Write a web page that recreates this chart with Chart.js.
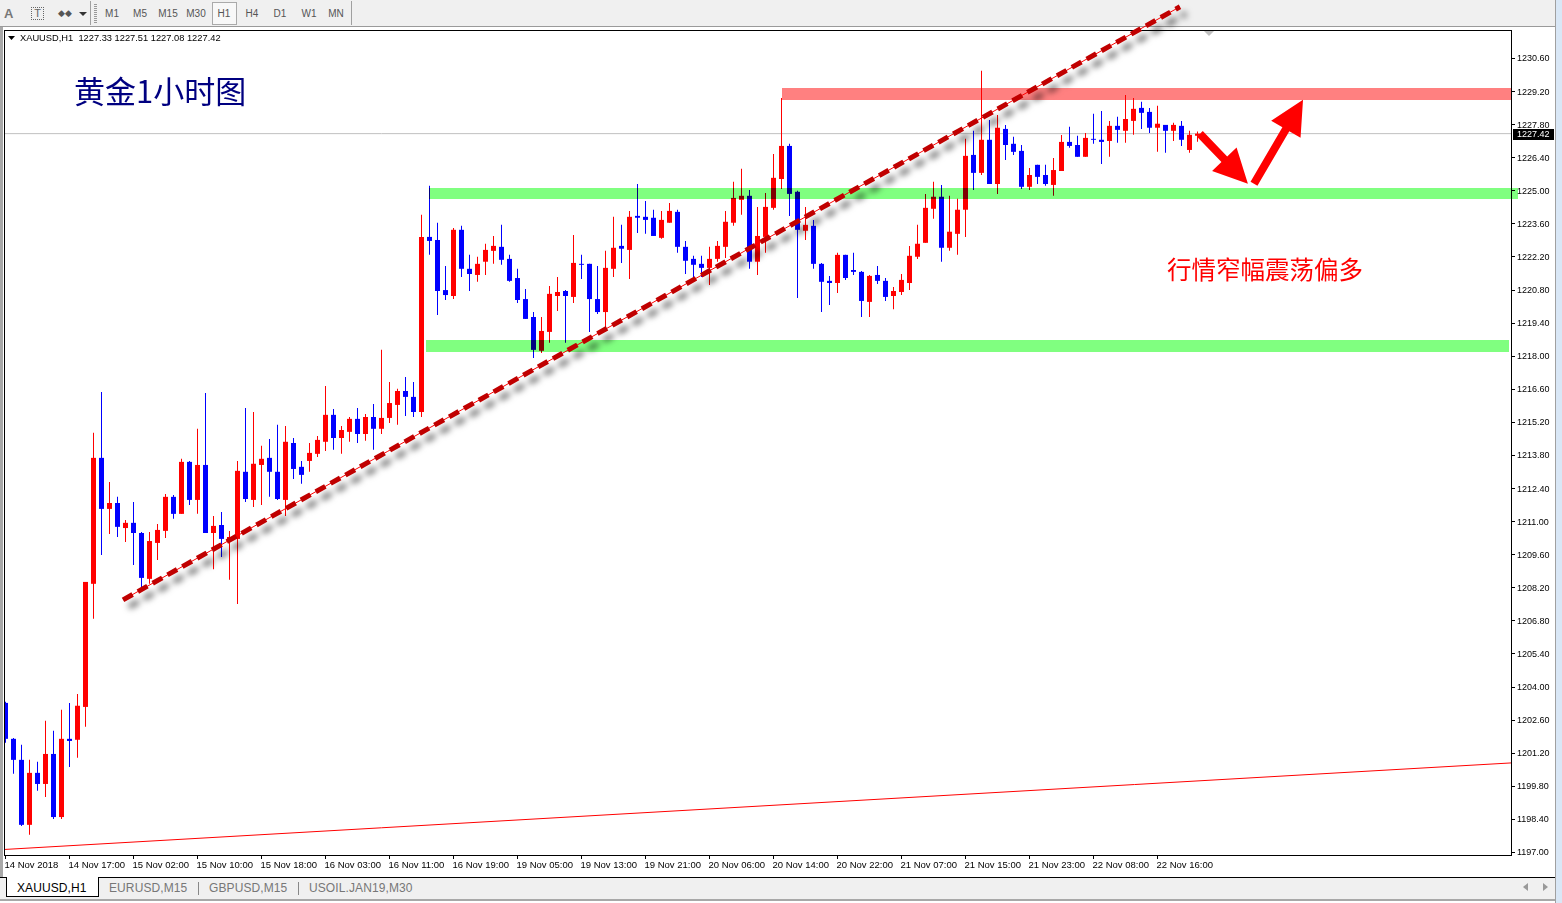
<!DOCTYPE html>
<html>
<head>
<meta charset="utf-8">
<title>XAUUSD,H1</title>
<script src="https://cdn.jsdelivr.net/npm/chart.js@4"></script>
<style>
  html, body { margin: 0; padding: 0; background: #fff; overflow: hidden; }
  #wrap { position: relative; width: 1562px; height: 903px; overflow: hidden; font-family: "Liberation Sans", sans-serif; }
  #chart { position: absolute; left: 0; top: 0; z-index: 1; }
  .box { position: absolute; }
  .tf { position: absolute; top: 8px; width: 28px; text-align: center; font-size: 10px; line-height: 12px; color: #555; }
  .tab { position: absolute; top: 881px; font-size: 12px; line-height: 14px; color: #777; letter-spacing: .1px; }
</style>
</head>
<body>
<div id="wrap">
  <canvas id="chart" width="1562" height="903"></canvas>

  <!-- terminal toolbar -->
  <div class="box" style="left:0;top:0;width:1556px;height:26px;background:#f0f0f0"></div>
  <div class="box" style="left:0;top:26px;width:1556px;height:1px;background:#9a9a9a"></div>
  <div class="box" style="left:90px;top:1px;width:1px;height:24px;background:#a0a0a0"></div>
  <div class="box" style="left:94px;top:4px;width:3px;height:19px;background:repeating-linear-gradient(#999 0 1px,#f0f0f0 1px 2px)"></div>
  <div class="box" style="left:351px;top:1px;width:1px;height:24px;background:#a0a0a0"></div>
  <div class="box" style="left:212px;top:2px;width:25px;height:23px;box-sizing:border-box;border:1px solid #aaa;background:#f8f8f8"></div>
  <div class="box" style="left:4px;top:6px;font-size:13px;font-weight:bold;color:#777">A</div>
  <div class="box" style="left:31px;top:7px;width:11px;height:11px;border:1px dotted #666;font-size:11px;line-height:11px;text-align:center;color:#666">T</div>
  <div class="box" style="left:58px;top:8px;font-size:9px;line-height:10px;color:#555">◆◆</div>
  <div class="box" style="left:79px;top:12px;border-left:4px solid transparent;border-right:4px solid transparent;border-top:4px solid #333"></div>
  <div class="tf" style="left:98px">M1</div>
  <div class="tf" style="left:126px">M5</div>
  <div class="tf" style="left:154px">M15</div>
  <div class="tf" style="left:182px">M30</div>
  <div class="tf" style="left:210px">H1</div>
  <div class="tf" style="left:238px">H4</div>
  <div class="tf" style="left:266px">D1</div>
  <div class="tf" style="left:295px">W1</div>
  <div class="tf" style="left:322px">MN</div>

  <!-- window edges -->
  <div class="box" style="left:0;top:27px;width:3px;height:850px;background:#a8a8a8"></div>
  <div class="box" style="left:1555px;top:0;width:1px;height:903px;background:#a0a0a0"></div>
  <div class="box" style="left:1556px;top:0;width:6px;height:903px;background:#d9e7f6"></div>

  <!-- symbol tabs -->
  <div class="box" style="left:0;top:877px;width:1555px;height:1px;background:#000"></div>
  <div class="box" style="left:0;top:878px;width:1555px;height:21px;background:#f0f0f0"></div>
  <div class="box" style="left:0;top:899px;width:1555px;height:2px;background:#a8a8a8"></div>
  <div class="box" style="left:6px;top:877px;width:93px;height:20px;box-sizing:border-box;border:1px solid #000;border-top:none;background:#fff"></div>
  <div class="tab" style="left:17px;color:#000">XAUUSD,H1</div>
  <div class="tab" style="left:109px">EURUSD,M15</div>
  <div class="box" style="left:198px;top:882px;width:1px;height:13px;background:#888"></div>
  <div class="tab" style="left:209px">GBPUSD,M15</div>
  <div class="box" style="left:298px;top:882px;width:1px;height:13px;background:#888"></div>
  <div class="tab" style="left:309px">USOIL.JAN19,M30</div>
  <div class="box" style="left:1523px;top:883px;border-top:4px solid transparent;border-bottom:4px solid transparent;border-right:5px solid #999"></div>
  <div class="box" style="left:1543px;top:883px;border-top:4px solid transparent;border-bottom:4px solid transparent;border-left:5px solid #999"></div>
</div>

<script>
// Candles
const opens = [
  1203.33,1201.81,1200.92,1198.17,1200.37,1199.90,1201.17,1198.50,1201.81,1201.77,
  1203.16,1208.37,1213.70,1211.54,1211.79,1210.73,1210.95,1210.52,1208.58,1210.10,
  1210.61,1212.05,1211.33,1213.53,1211.92,1213.40,1210.52,1210.86,1210.18,1210.27,
  1213.11,1211.92,1213.40,1213.70,1213.11,1211.92,1214.33,1213.32,1213.57,1213.87,
  1214.38,1215.52,1214.54,1214.80,1215.35,1214.71,1215.43,1214.93,1215.39,1215.94,
  1216.53,1216.28,1215.64,1223.05,1222.92,1220.80,1220.55,1223.35,1221.70,1221.44,
  1222.00,1222.46,1222.63,1222.12,1221.31,1220.42,1219.66,1218.23,1219.03,1220.55,
  1220.76,1220.51,1221.91,1221.91,1220.42,1219.87,1221.70,1222.67,1222.50,1223.94,
  1223.90,1223.86,1223.01,1223.65,1224.11,1222.63,1222.12,1221.91,1221.74,1222.12,
  1222.63,1223.65,1224.62,1224.79,1222.00,1223.05,1224.28,1225.50,1226.90,1224.96,
  1223.31,1223.52,1221.91,1221.19,1221.10,1222.29,1221.65,1221.57,1220.30,1221.44,
  1221.19,1220.55,1220.72,1221.10,1222.21,1222.80,1224.24,1224.75,1222.59,1223.18,
  1224.20,1226.52,1225.76,1227.16,1225.29,1227.62,1226.99,1226.69,1225.17,1226.10,
  1225.67,1225.25,1225.84,1227.07,1226.94,1226.44,1227.20,1227.16,1227.11,1227.75,
  1227.54,1227.96,1228.51,1228.34,1227.67,1227.79,1227.54,1227.75,1226.73,1227.33
];
const closes = [
  1201.81,1200.92,1198.17,1200.37,1199.90,1201.17,1198.50,1201.81,1201.72,1203.21,
  1208.45,1213.70,1211.54,1211.79,1210.78,1210.95,1210.52,1208.62,1210.18,1210.65,
  1212.05,1211.33,1213.53,1211.92,1213.40,1210.52,1210.82,1210.27,1210.35,1213.15,
  1211.96,1213.45,1213.66,1213.11,1211.96,1214.38,1213.23,1212.98,1213.91,1214.46,
  1215.52,1214.54,1214.88,1215.35,1214.71,1215.43,1214.93,1215.39,1216.02,1216.53,
  1216.28,1215.64,1223.05,1222.88,1220.76,1220.59,1223.35,1221.70,1221.48,1221.91,
  1222.50,1222.67,1222.08,1221.19,1220.38,1219.58,1218.27,1219.07,1220.64,1220.72,
  1220.55,1221.95,1221.87,1220.42,1219.87,1221.74,1222.59,1222.55,1223.90,1223.86,
  1223.77,1223.09,1223.77,1224.15,1222.63,1222.04,1221.87,1221.74,1222.12,1222.67,
  1223.69,1224.70,1224.79,1222.00,1223.09,1224.32,1225.55,1226.90,1224.87,1223.35,
  1223.56,1221.91,1221.15,1221.10,1222.29,1221.31,1221.57,1220.34,1221.40,1221.19,
  1220.51,1220.76,1221.23,1222.25,1222.76,1224.28,1224.75,1222.59,1223.27,1224.20,
  1226.48,1225.76,1227.16,1225.29,1227.67,1226.94,1226.65,1225.17,1225.67,1225.59,
  1225.29,1225.88,1227.07,1226.90,1226.44,1227.24,1227.16,1227.07,1227.75,1227.58,
  1228.04,1228.47,1228.30,1227.67,1227.84,1227.54,1227.79,1227.16,1227.37,1227.42
];
const highs = [
  1203.38,1201.85,1201.56,1200.92,1200.84,1202.57,1202.15,1203.04,1203.33,1203.71,
  1208.45,1214.76,1216.49,1212.68,1212.05,1211.07,1211.83,1210.56,1210.56,1210.90,
  1212.17,1212.13,1213.66,1213.57,1214.93,1216.45,1211.24,1211.41,1210.61,1213.57,
  1215.81,1215.64,1214.21,1214.50,1215.10,1215.05,1214.54,1213.57,1214.33,1214.63,
  1216.74,1215.77,1215.05,1215.43,1215.81,1215.56,1215.98,1218.27,1216.91,1216.62,
  1217.12,1216.91,1223.99,1225.21,1223.65,1221.82,1223.43,1223.52,1222.29,1222.21,
  1222.76,1223.09,1223.56,1222.29,1221.70,1220.85,1219.87,1219.66,1220.97,1221.35,
  1220.80,1223.13,1222.29,1221.91,1221.82,1222.46,1223.90,1223.56,1224.15,1225.29,
  1224.57,1224.20,1224.15,1224.49,1224.20,1222.88,1222.25,1222.25,1222.63,1222.88,
  1224.15,1225.38,1225.93,1225.04,1224.32,1224.91,1226.56,1228.93,1226.99,1225.00,
  1224.32,1223.77,1221.95,1221.40,1222.38,1222.29,1222.38,1221.61,1221.44,1221.82,
  1221.31,1220.93,1221.48,1222.67,1223.56,1224.87,1225.38,1225.25,1224.79,1224.66,
  1227.20,1227.54,1230.08,1228.00,1228.21,1227.79,1227.29,1226.94,1225.97,1226.10,
  1226.10,1226.39,1227.36,1227.71,1227.33,1227.45,1228.26,1228.38,1227.96,1228.13,
  1229.06,1228.93,1228.77,1228.51,1228.60,1227.79,1227.88,1227.96,1227.54,1227.51
];
const lows = [
  1201.64,1200.33,1198.12,1197.75,1199.61,1199.35,1198.42,1198.42,1200.62,1201.01,
  1202.32,1206.89,1209.59,1210.48,1210.35,1210.14,1209.17,1208.11,1208.37,1209.38,
  1210.31,1211.12,1211.33,1211.71,1211.33,1210.52,1208.99,1209.50,1208.54,1207.52,
  1211.83,1211.62,1211.71,1212.05,1211.92,1211.24,1212.81,1212.60,1213.11,1213.74,
  1213.99,1214.04,1213.87,1214.38,1214.33,1214.42,1214.04,1214.71,1215.18,1215.10,
  1215.47,1215.43,1215.43,1222.29,1219.75,1220.38,1220.42,1221.35,1220.76,1221.15,
  1221.44,1221.91,1221.87,1221.15,1220.25,1219.58,1217.93,1218.14,1218.57,1219.91,
  1218.57,1220.25,1221.27,1219.03,1219.79,1219.20,1221.35,1221.95,1221.27,1223.22,
  1223.18,1223.09,1222.97,1223.65,1222.38,1221.48,1221.23,1221.35,1221.02,1222.00,
  1222.16,1223.52,1223.99,1221.70,1221.44,1222.38,1224.20,1225.08,1223.94,1220.47,
  1222.92,1221.70,1219.87,1220.17,1220.68,1221.23,1221.44,1219.66,1219.66,1221.06,
  1220.34,1219.99,1220.59,1220.80,1222.12,1222.80,1223.82,1222.00,1222.46,1222.29,
  1223.05,1225.04,1225.67,1225.29,1224.87,1226.31,1226.52,1225.08,1225.04,1225.29,
  1225.21,1224.79,1225.84,1226.82,1226.44,1226.44,1226.99,1226.14,1226.44,1227.03,
  1227.03,1227.37,1227.62,1227.45,1226.65,1226.61,1227.11,1226.90,1226.61,1227.08
];

// Axis labels
const xTickLabels = [
  "14 Nov 2018","14 Nov 17:00","15 Nov 02:00","15 Nov 10:00","15 Nov 18:00","16 Nov 03:00","16 Nov 11:00",
  "16 Nov 19:00","19 Nov 05:00","19 Nov 13:00","19 Nov 21:00","20 Nov 06:00","20 Nov 14:00","20 Nov 22:00",
  "21 Nov 07:00","21 Nov 15:00","21 Nov 23:00","22 Nov 08:00","22 Nov 16:00"
];
const xTickStep = 8; // one label every 8 bars
const yTicks = [
  1197.00,1198.40,1199.80,1201.20,1202.60,1204.00,1205.40,1206.80,1208.20,1209.60,1211.00,1212.40,1213.80,
  1215.20,1216.60,1218.00,1219.40,1220.80,1222.20,1223.60,1225.00,1226.40,1227.80,1229.20,1230.60
];
const lastPrice = 1227.42;

// Drawn objects, in bar index / price
const trendX = [14.69, 146.81];
const trendY = [1207.69, 1232.79];
const lowerLineX = [-0.06, 188.19];
const lowerLineY = [1197.13, 1200.79];
const bandColors = ["#80ff80", "#80ff80", "#ff8080"];
const bandFrom = [52.94, 52.56, 97.06];
const bandTo = [189.06, 187.94, 188.19];
const bandTop = [1225.13, 1218.69, 1229.36];
const bandBottom = [1224.66, 1218.18, 1228.85];
const arrowFromX = [149.3, 156.06];
const arrowFromY = [1227.41, 1225.30];
const arrowToX = [155.3, 162.19];
const arrowToY = [1225.30, 1228.85];

const UP = "#ff0000";
const DOWN = "#0000ff";
const barColors = opens.map((o, i) => closes[i] >= o ? UP : DOWN);
const toLine = (xs, ys) => xs.map((x, i) => ({ x: x, y: ys[i] }));

// Bands, arrows, frame and texts that MT4 puts on top of the candles
const overlay = {
  id: "overlay",
  beforeDatasetsDraw(chart) {
    const ctx = chart.ctx, a = chart.chartArea;
    ctx.save();
    ctx.strokeStyle = "#000";
    ctx.lineWidth = 1;
    ctx.strokeRect(4.5, 30.5, a.right - 4, a.bottom - 30);
    ctx.restore();
  },
  beforeDatasetDraw(chart, args) {
    if (chart.data.datasets[args.index].label === "trend") {
      const ctx = chart.ctx;
      ctx.save();
      ctx.shadowColor = "rgba(0,0,0,0.6)";
      ctx.shadowBlur = 6;
      ctx.shadowOffsetX = 6;
      ctx.shadowOffsetY = 7;
    }
  },
  afterDatasetDraw(chart, args) {
    const label = chart.data.datasets[args.index].label;
    const ctx = chart.ctx, x = chart.scales.x, y = chart.scales.y;
    if (label === "trend") ctx.restore();
    if (label === "body") {
      ctx.save();
      ctx.globalCompositeOperation = "multiply";
      bandColors.forEach((c, i) => {
        const l = Math.round(x.getPixelForValue(bandFrom[i]));
        const r = Math.round(x.getPixelForValue(bandTo[i]));
        const t = Math.round(y.getPixelForValue(bandTop[i]));
        const b = Math.round(y.getPixelForValue(bandBottom[i]));
        ctx.fillStyle = c;
        ctx.fillRect(l, t, r - l, b - t);
      });
      ctx.restore();
    }
  },
  afterDatasetsDraw(chart) {
    const ctx = chart.ctx, x = chart.scales.x, y = chart.scales.y;
    ctx.save();
    // red arrows
    ctx.fillStyle = "#ff0000";
    arrowFromX.forEach((v, i) => {
      const x0 = x.getPixelForValue(v), y0 = y.getPixelForValue(arrowFromY[i]);
      const x1 = x.getPixelForValue(arrowToX[i]), y1 = y.getPixelForValue(arrowToY[i]);
      const len = Math.hypot(x1 - x0, y1 - y0);
      const ux = (x1 - x0) / len, uy = (y1 - y0) / len;
      const bx = x1 - ux * 34, by = y1 - uy * 34;
      ctx.beginPath();
      ctx.moveTo(x0 - uy * 4, y0 + ux * 4);
      ctx.lineTo(bx - uy * 4, by + ux * 4);
      ctx.lineTo(bx - uy * 17, by + ux * 17);
      ctx.lineTo(x1, y1);
      ctx.lineTo(bx + uy * 17, by - ux * 17);
      ctx.lineTo(bx + uy * 4, by - ux * 4);
      ctx.lineTo(x0 + uy * 4, y0 - ux * 4);
      ctx.closePath();
      ctx.fill();
    });

    // header line
    ctx.fillStyle = "#000";
    ctx.beginPath();
    ctx.moveTo(8, 36); ctx.lineTo(15, 36); ctx.lineTo(11.5, 40);
    ctx.fill();
    ctx.font = '9.3px "Liberation Sans"';
    ctx.textBaseline = "middle";
    ctx.textAlign = "left";
    ctx.fillText("XAUUSD,H1  1227.33 1227.51 1227.08 1227.42", 20, 38.5);

    // shift marker at the top of the chart
    ctx.fillStyle = "#c0c0c0";
    ctx.beginPath();
    ctx.moveTo(1204, 31); ctx.lineTo(1214, 31); ctx.lineTo(1209, 36);
    ctx.fill();

    // handwritten notes
    ctx.fillStyle = "#000080";
    ctx.font = '31px "Noto Sans CJK SC"';
    ctx.fillText("黄金1小时图", 74, 91);
    ctx.fillStyle = "#ff0000";
    ctx.font = '24.5px "Noto Sans CJK SC"';
    ctx.fillText("行情窄幅震荡偏多", 1167, 270);

    // last price box
    const py = Math.round(y.getPixelForValue(lastPrice));
    ctx.fillStyle = "#000";
    ctx.fillRect(1513, py - 5, 41, 11);
    ctx.fillStyle = "#fff";
    ctx.font = '9px "Liberation Sans"';
    ctx.fillText(lastPrice.toFixed(2), 1517, py + 1);
    ctx.restore();
  }
};

const chart = new Chart(document.getElementById("chart").getContext("2d"), {
  type: "bar",
  data: {
    datasets: [
      {
        label: "trend", type: "line", order: 0, clip: false,
        data: toLine(trendX, trendY),
        borderColor: "#c00000", borderWidth: 5, borderDash: [11, 6], pointRadius: 0
      },
      {
        label: "trendThin", type: "line", order: 1, clip: false,
        data: toLine(trendX, trendY),
        borderColor: "#ff0000", borderWidth: 1, pointRadius: 0
      },
      {
        label: "lower", type: "line", order: 1,
        data: toLine(lowerLineX, lowerLineY),
        borderColor: "#ff0000", borderWidth: 1, pointRadius: 0
      },
      {
        label: "body", order: 2, grouped: false, barThickness: 5, inflateAmount: 0,
        data: opens.map((o, i) => ({ x: i, y: [o, closes[i]] })),
        backgroundColor: barColors
      },
      {
        label: "wick", order: 3, grouped: false, barThickness: 1, inflateAmount: 0,
        data: lows.map((l, i) => ({ x: i, y: [l, highs[i]] })),
        backgroundColor: barColors
      },
      {
        label: "last", type: "line", order: 4,
        data: toLine([-0.0625, 188.1875], [lastPrice, lastPrice]),
        borderColor: "#c0c0c0", borderWidth: 1, pointRadius: 0
      }
    ]
  },
  options: {
    responsive: false,
    animation: false,
    events: [],
    layout: { padding: { left: 5, top: 30, right: 0, bottom: 0 } },
    plugins: { legend: { display: false }, tooltip: { enabled: false } },
    scales: {
      x: {
        type: "linear",
        offset: false,
        min: -0.0625,
        max: 188.1875,
        grid: { offset: false, drawOnChartArea: false, color: "#000", tickLength: 4 },
        border: { display: false },
        afterBuildTicks: s => { s.ticks = xTickLabels.map((t, i) => ({ value: i * xTickStep })); },
        afterFit: s => { s.height = 48; s.paddingLeft = 0; s.paddingRight = 0; },
        ticks: {
          autoSkip: false, maxRotation: 0, minRotation: 0, align: "start", labelOffset: -1, padding: 1,
          color: "#000", font: { family: "Liberation Sans", size: 9.5 },
          callback: v => xTickLabels[v / xTickStep]
        }
      },
      y: {
        position: "right",
        min: 1196.894,
        max: 1231.806,
        grid: { drawOnChartArea: false, color: "#000", tickLength: 4 },
        border: { display: false },
        afterBuildTicks: s => { s.ticks = yTicks.map(v => ({ value: v })); },
        afterFit: s => { s.width = 51; s.paddingTop = 0; s.paddingBottom = 0; },
        ticks: {
          autoSkip: false, padding: 2, labelOffset: 0.5,
          color: "#000", font: { family: "Liberation Sans", size: 9 },
          callback: v => v.toFixed(2)
        }
      }
    }
  },
  plugins: [overlay]
});
</script>
</body>
</html>
